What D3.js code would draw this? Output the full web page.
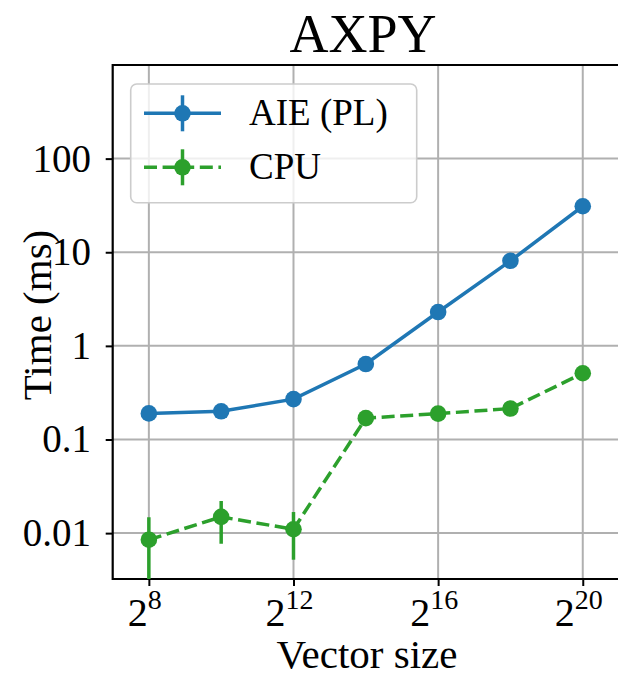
<!DOCTYPE html>
<html>
<head>
<meta charset="utf-8">
<script src="https://cdn.jsdelivr.net/npm/d3@7"></script>
<style>
  body { margin: 0; background: #fff; }
  text { font-family: "Liberation Serif", "DejaVu Serif", serif; fill: #000; }
</style>
</head>
<body>
<svg id="chart" width="618" height="679"></svg>
<script>
// exponents of the vector size (2^n)
const sizeExp = [8, 10, 12, 14, 16, 18, 20];

// time in ms
const aieTime = [0.19, 0.20, 0.27, 0.64, 2.3, 8.1, 31];
const aieErr = [0.005, 0.005, 0.01, 0.02, 0.05, 0.2, 0.5];
const cpuTime = [0.0085, 0.0149, 0.011, 0.169, 0.189, 0.214, 0.51];
const cpuErr = [0.0063, 0.0072, 0.0058, 0.01, 0.01, 0.01, 0.02];

const xTicks = [8, 12, 16, 20];
const yTicks = [0.01, 0.1, 1, 10, 100];
const yTickLabels = ["0.01", "0.1", "1", "10", "100"];

const series = [
    { name: "AIE (PL)", color: "#1f77b4", dash: null, y: aieTime, err: aieErr },
    { name: "CPU", color: "#2ca02c", dash: "13,5.6", y: cpuTime, err: cpuErr }
];

const margin = { left: 112.7, top: 65, bottom: 579, right: 637 };

const svg = d3.select("#chart");

const x = d3.scaleLinear().domain([7, 21.5]).range([margin.left, margin.right]);
const y = d3.scaleLog().domain([Math.pow(10, -2.49), 1000]).range([margin.bottom, margin.top]);

svg.append("defs").append("clipPath").attr("id", "plotClip")
    .append("rect")
    .attr("x", margin.left).attr("y", margin.top)
    .attr("width", margin.right - margin.left).attr("height", margin.bottom - margin.top);

// grid
const grid = svg.append("g").attr("class", "grid");
grid.selectAll("line.vx").data(xTicks).join("line")
    .attr("x1", d => x(d)).attr("x2", d => x(d))
    .attr("y1", margin.top).attr("y2", margin.bottom)
    .attr("stroke", "#b0b0b0").attr("stroke-width", 2);
grid.selectAll("line.hy").data(yTicks).join("line")
    .attr("x1", margin.left).attr("x2", margin.right)
    .attr("y1", d => y(d)).attr("y2", d => y(d))
    .attr("stroke", "#b0b0b0").attr("stroke-width", 2);

// axes
const xAxis = d3.axisBottom(x).tickValues(xTicks).tickSize(7).tickFormat("");
const yAxis = d3.axisLeft(y).tickValues(yTicks).tickSize(7).tickFormat("");

const gx = svg.append("g").attr("transform", `translate(0,${margin.bottom})`).call(xAxis);
const gy = svg.append("g").attr("transform", `translate(${margin.left},0)`).call(yAxis);
[gx, gy].forEach(g => {
    g.select(".domain").remove();
    g.selectAll(".tick line").attr("stroke", "#000").attr("stroke-width", 2);
});

// spines
svg.append("line").attr("x1", margin.left).attr("x2", margin.left)
    .attr("y1", margin.top - 1).attr("y2", margin.bottom + 1)
    .attr("stroke", "#000").attr("stroke-width", 2.2);
svg.append("line").attr("x1", margin.left).attr("x2", margin.right)
    .attr("y1", margin.bottom).attr("y2", margin.bottom)
    .attr("stroke", "#000").attr("stroke-width", 2.2);
svg.append("line").attr("x1", margin.left).attr("x2", margin.right)
    .attr("y1", margin.top).attr("y2", margin.top)
    .attr("stroke", "#000").attr("stroke-width", 2.2);

// tick labels
const xl = svg.append("g").selectAll("text").data(xTicks).join("text")
    .attr("x", d => x(d) - 4).attr("y", 626)
    .attr("text-anchor", "middle")
    .style("font-size", "40px");
xl.append("tspan").text("2");
xl.append("tspan").attr("dy", -17).style("font-size", "28px").text(d => d);

svg.append("g").selectAll("text").data(yTicks).join("text")
    .attr("x", 91).attr("y", d => y(d) + 13)
    .attr("text-anchor", "end")
    .style("font-size", "39px")
    .text((d, i) => yTickLabels[i]);

// data
const plot = svg.append("g").attr("clip-path", "url(#plotClip)");
series.forEach(s => {
    const pts = sizeExp.map((e, i) => ({ e: e, v: s.y[i], err: s.err[i] }));
    const g = plot.append("g");
    g.selectAll("line.err").data(pts).join("line")
        .attr("x1", d => x(d.e)).attr("x2", d => x(d.e))
        .attr("y1", d => y(Math.max(d.v - d.err, 1e-4))).attr("y2", d => y(d.v + d.err))
        .attr("stroke", s.color).attr("stroke-width", 3.5);
    g.append("path").datum(pts)
        .attr("d", d3.line().x(d => x(d.e)).y(d => y(d.v)))
        .attr("fill", "none").attr("stroke", s.color).attr("stroke-width", 3.5)
        .attr("stroke-dasharray", s.dash);
    g.selectAll("circle").data(pts).join("circle")
        .attr("cx", d => x(d.e)).attr("cy", d => y(d.v)).attr("r", 8.3)
        .attr("fill", s.color);
});

// legend
const lg = svg.append("g");
lg.append("rect").attr("x", 130.7).attr("y", 84).attr("width", 286).attr("height", 118.7)
    .attr("rx", 6).attr("fill", "#fff").attr("fill-opacity", 0.8)
    .attr("stroke", "#cccccc").attr("stroke-width", 1.6);
series.forEach((s, i) => {
    const cy = 113.3 + i * 54;
    lg.append("line").attr("x1", 144).attr("x2", 221).attr("y1", cy).attr("y2", cy)
        .attr("stroke", s.color).attr("stroke-width", 3.5).attr("stroke-dasharray", s.dash);
    lg.append("line").attr("x1", 182.5).attr("x2", 182.5).attr("y1", cy - 18).attr("y2", cy + 18)
        .attr("stroke", s.color).attr("stroke-width", 3.5);
    lg.append("circle").attr("cx", 182.5).attr("cy", cy).attr("r", 8.3).attr("fill", s.color);
    lg.append("text").attr("x", 249).attr("y", cy + 12).style("font-size", "37px").text(s.name);
});

// titles
svg.append("text").attr("x", 363).attr("y", 52).attr("text-anchor", "middle")
    .style("font-size", "54px").text("AXPY");
svg.append("text").attr("x", 367).attr("y", 668).attr("text-anchor", "middle")
    .style("font-size", "41px").text("Vector size");
svg.append("text").attr("transform", "translate(51,315) rotate(-90)")
    .attr("text-anchor", "middle").style("font-size", "41px").text("Time (ms)");
</script>
</body>
</html>
